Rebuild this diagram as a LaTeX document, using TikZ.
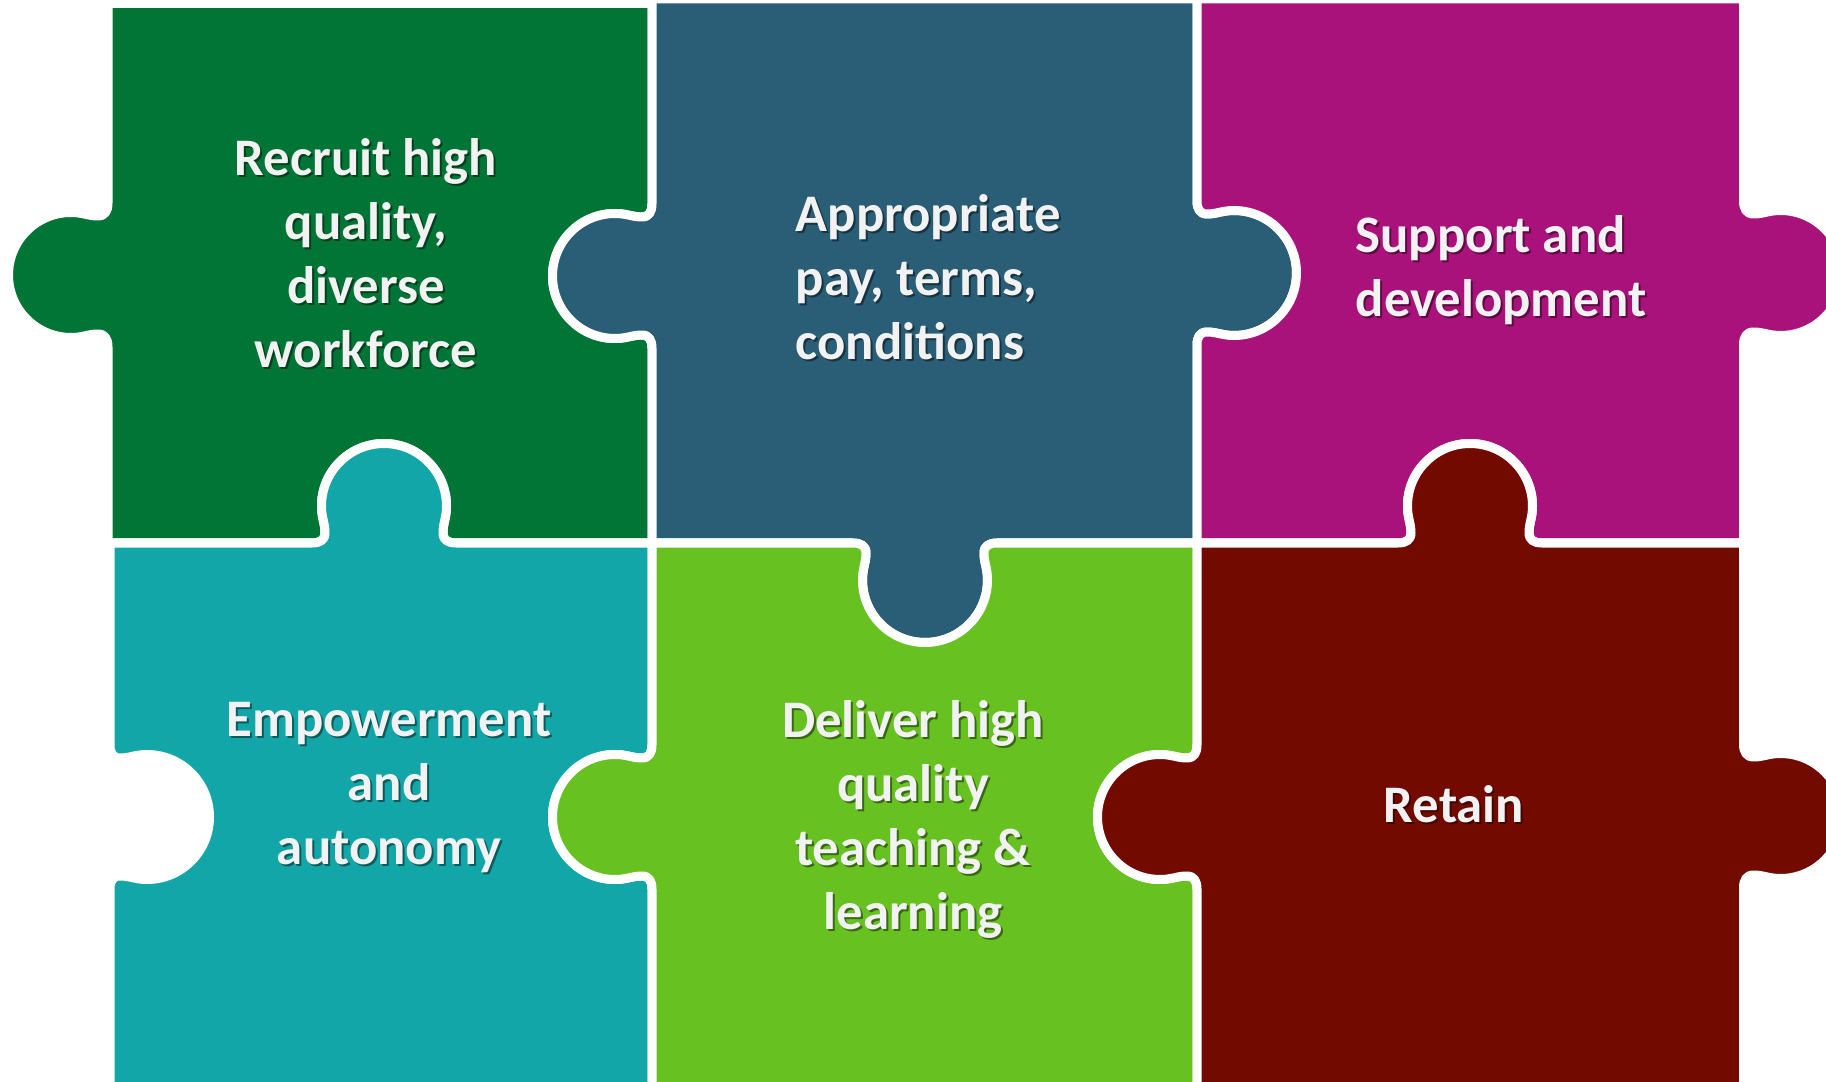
\documentclass[tikz,border=0pt]{standalone}
\usepackage{fontspec}
\newfontfamily\lblfont{Carlito}
\definecolor{cGreen}{RGB}{0,117,54}
\definecolor{cBlue}{RGB}{42,94,118}
\definecolor{cMagenta}{RGB}{169,18,122}
\definecolor{cTeal}{RGB}{18,166,168}
\definecolor{cLime}{RGB}{102,193,33}
\definecolor{cMaroon}{RGB}{115,10,0}
\definecolor{txt}{RGB}{242,242,242}

% Puzzle tab: name, centre on the edge (x,y), travel direction (ux,uy), bulge direction (vx,vy)
\newcommand\maketab[7]{%
  \foreach \i/\a/\b in {0/-72/0,1/-64/0,2/-59/3,3/-59/10,4/-59/20,5/-62.5/25,6/-62.5/37,
      7/-62.5/71.5,8/-34.5/99.5,9/0/99.5,10/34.5/99.5,11/62.5/71.5,12/62.5/37,
      13/62.5/25,14/59/20,15/59/10,16/59/3,17/64/0,18/72/0}
    {\coordinate (#1-\i) at ({#2+(\a)*(#4)+(\b)*(#6)},{#3+(\a)*(#5)+(\b)*(#7)});}%
}
% Tab outline, followed forwards or backwards
\newcommand\tabfwd[1]{-- (#1-0) .. controls (#1-1) and (#1-2) .. (#1-3)
  .. controls (#1-4) and (#1-5) .. (#1-6) .. controls (#1-7) and (#1-8) .. (#1-9)
  .. controls (#1-10) and (#1-11) .. (#1-12) .. controls (#1-13) and (#1-14) .. (#1-15)
  .. controls (#1-16) and (#1-17) .. (#1-18)}
\newcommand\tabrev[1]{-- (#1-18) .. controls (#1-17) and (#1-16) .. (#1-15)
  .. controls (#1-14) and (#1-13) .. (#1-12) .. controls (#1-11) and (#1-10) .. (#1-9)
  .. controls (#1-8) and (#1-7) .. (#1-6) .. controls (#1-5) and (#1-4) .. (#1-3)
  .. controls (#1-2) and (#1-1) .. (#1-0)}
% Label with a soft drop shadow
\newcommand\ptext[5]{%
  \node[lbl,text=black,opacity=0.45,align=#3,anchor=#4,xshift=0.02cm,yshift=-0.02cm] (#1-shadow) at (#2) {#5};
  \node[lbl,align=#3,anchor=#4] (#1) at (#2) {#5};}

\begin{document}
\begin{tikzpicture}[x=0.01cm,y=-0.01cm,
  piece/.style={draw=white,line width=0.09cm,line join=round},
  lbl/.style={font=\lblfont\bfseries\fontsize{15pt}{18.2pt}\selectfont,text=txt,inner sep=0pt}]
\useasboundingbox (0,0) rectangle (1826,1082);
\clip (0,0) rectangle (1826,1082);
\fill[white] (0,0) rectangle (1826,1082);

% tabs shared between pieces
\maketab{AB}{652}{276}{0}{1}{-1}{0}
\maketab{AD}{384}{543}{-1}{0}{0}{-1}
\maketab{BC}{1197}{273}{0}{1}{1}{0}
\maketab{BE}{925}{543}{-1}{0}{0}{1}
\maketab{CF}{1470}{543}{-1}{0}{0}{-1}
\maketab{DE}{652}{817}{0}{1}{-1}{0}
\maketab{EF}{1197}{817}{0}{1}{-1}{0}
% tabs and hole on the outer border
\maketab{Ao}{108}{275}{0}{-1}{-1}{0}
\maketab{Co}{1743.5}{273}{0}{1}{1}{0}
\maketab{Do}{110}{817}{0}{-1}{1}{0}
\maketab{Fo}{1743.5}{816}{0}{1}{1}{0}

% pieces
\path[piece,fill=cGreen] (108,3.5) -- (652,3.5) \tabfwd{AB} -- (652,543) \tabfwd{AD} -- (108,543) \tabfwd{Ao} -- cycle;
\path[piece,fill=cBlue] (652,-1) -- (1197,-1) \tabfwd{BC} -- (1197,543) \tabfwd{BE} -- (652,543) \tabrev{AB} -- cycle;
\path[piece,fill=cMagenta] (1197,-1) -- (1743.5,-1) \tabfwd{Co} -- (1743.5,543) \tabfwd{CF} -- (1197,543) \tabrev{BC} -- cycle;
\path[piece,fill=cTeal] (110,543) \tabrev{AD} -- (652,543) \tabfwd{DE} -- (652,1090) -- (110,1090) \tabfwd{Do} -- cycle;
\path[piece,fill=cLime] (652,543) \tabrev{BE} -- (1197,543) \tabfwd{EF} -- (1197,1090) -- (652,1090) \tabrev{DE} -- cycle;
\path[piece,fill=cMaroon] (1197,543) \tabrev{CF} -- (1743.5,543) \tabfwd{Fo} -- (1743.5,1090) -- (1197,1090) \tabrev{EF} -- cycle;

% labels
\ptext{recruit}{366,253}{center}{center}{Recruit high\\quality,\\diverse\\workforce}
\ptext{pay}{795,277}{left}{west}{Appropriate\\pay, terms,\\conditions}
\ptext{support}{1355,270}{left}{west}{Support and\\development}
\ptext{empower}{389,788}{center}{center}{Empowerment\\and\\autonomy}
\ptext{deliver}{913,819}{center}{center}{Deliver high\\quality\\teaching \&\\learning}
\ptext{retain}{1454,804}{center}{center}{Retain}
\end{tikzpicture}
\end{document}
